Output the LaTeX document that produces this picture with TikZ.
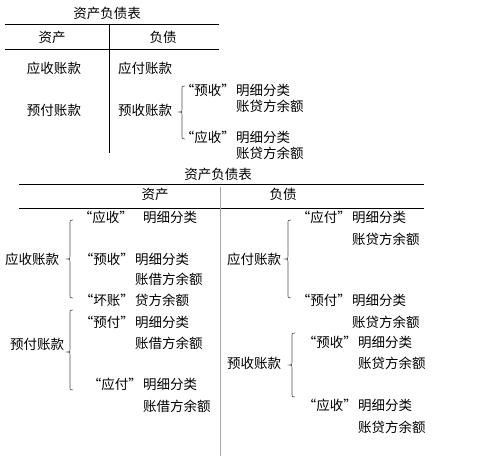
\documentclass[tikz,border=0pt]{standalone}
\usepackage{fontspec}
\newfontfamily\cjk{Noto Sans CJK SC}
\begin{document}
\begin{tikzpicture}[x=1pt,y=-1pt,
  every node/.style={inner sep=0pt,font=\cjk\fontsize{13.5}{15}\selectfont},
  lw/.style={anchor=west},
  le/.style={anchor=east},
  rule/.style={line width=0.8pt,black},
  brc/.style={line width=0.6pt,black!70}]
\useasboundingbox (0,0) rectangle (479,462);
\newcommand{\cbrace}[4]{% x, top, mid, bottom
  \draw[brc] (#1+3,#2) .. controls (#1,#2) .. (#1,#2+4) -- (#1,#3-3)
    .. controls (#1,#3) .. (#1-3,#3) .. controls (#1,#3) .. (#1,#3+3)
    -- (#1,#4-4) .. controls (#1,#4) .. (#1+3,#4);}
% ---------- top table ----------
\node (t1) at (107,13) {资产负债表};
\coordinate (t1l) at (5,24); \coordinate (t1r) at (219,24);
\coordinate (t2l) at (5,49); \coordinate (t2r) at (219,49);
\coordinate (tv1) at (109,24); \coordinate (tv2) at (109,153);
\draw[rule] (t1l) -- (t1r);
\draw[rule] (t2l) -- (t2r);
\draw[rule] (tv1) -- (tv2);
\node (ta) at (52,37) {资产};
\node (tb) at (163,37) {负债};
\node (tar) at (54,68) {应收账款};
\node[lw] (tap) at (118,68) {应付账款};
\node (tyf) at (54,110) {预付账款};
\node[lw] (tys) at (118,110) {预收账款};
\cbrace{182}{86}{112}{139}
\node[le] (tq1) at (235,90) {“预收”};
\node[lw] (tm1) at (236,90) {明细分类};
\node[lw] (tz1) at (236,106) {账贷方余额};
\node[le] (tq2) at (235,137) {“应收”};
\node[lw] (tm2) at (236,137) {明细分类};
\node[lw] (tz2) at (236,153) {账贷方余额};
% ---------- bottom table ----------
\node (b1) at (218,174) {资产负债表};
\coordinate (b1l) at (19,184); \coordinate (b1r) at (424,184);
\coordinate (b2l) at (19,208); \coordinate (b2r) at (424,208);
\coordinate (bv1) at (220,187); \coordinate (bv2) at (220,456);
\draw[rule] (b1l) -- (b1r);
\draw[rule] (b2l) -- (b2r);
\draw[line width=1pt,black!35] (bv1) -- (bv2);
\node (ba) at (155,194) {资产};
\node (bb) at (283,194) {负债};
% left: 应收账款
\node[lw] (lysk) at (5,259) {应收账款};
\cbrace{70}{220}{259}{298}
\node[le] (lq1) at (133,217) {“应收”};
\node[lw] (lm1) at (143,217) {明细分类};
\node[le] (lq2) at (134,259) {“预收”};
\node[lw] (lm2) at (135,259) {明细分类};
\node[lw] (lz2) at (135,279) {账借方余额};
\node[le] (lq3) at (134,300) {“坏账”};
\node[lw] (lm3) at (135,300) {贷方余额};
% left: 预付账款
\node[lw] (lyfk) at (10,344) {预付账款};
\cbrace{70}{310}{352}{390}
\node[le] (lq4) at (134,322) {“预付”};
\node[lw] (lm4) at (135,322) {明细分类};
\node[lw] (lz4) at (135,343) {账借方余额};
\node[le] (lq5) at (142,384) {“应付”};
\node[lw] (lm5) at (143,384) {明细分类};
\node[lw] (lz5) at (143,406) {账借方余额};
% right: 应付账款
\node[lw] (ryfk) at (227,259) {应付账款};
\cbrace{288}{220}{259}{298}
\node[le] (rq1) at (351,217) {“应付”};
\node[lw] (rm1) at (352,217) {明细分类};
\node[lw] (rz1) at (352,239) {账贷方余额};
\node[le] (rq2) at (351,300) {“预付”};
\node[lw] (rm2) at (352,300) {明细分类};
\node[lw] (rz2) at (352,322) {账贷方余额};
% right: 预收账款
\node[lw] (rysk) at (227,363) {预收账款};
\cbrace{292}{333}{365}{397}
\node[le] (rq3) at (357,342) {“预收”};
\node[lw] (rm3) at (358,342) {明细分类};
\node[lw] (rz3) at (358,363) {账贷方余额};
\node[le] (rq4) at (357,405) {“应收”};
\node[lw] (rm4) at (358,405) {明细分类};
\node[lw] (rz4) at (358,427) {账贷方余额};
\end{tikzpicture}
\end{document}
